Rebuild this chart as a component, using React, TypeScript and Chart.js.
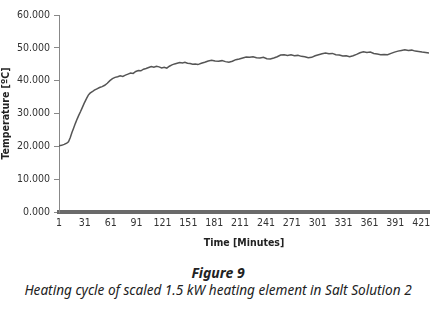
import React, { useEffect, useRef } from "react";
import { Chart, registerables } from "chart.js";

Chart.register(...registerables);

const minutes: number[] = [
  1, 4, 7, 10, 12, 14, 16, 18, 20, 22, 24, 26, 28, 30, 33, 35, 37, 40, 42, 45,
  48, 51, 54, 57, 60, 63, 66, 69, 72, 75, 78, 81, 84, 87, 90, 93, 96, 99, 102, 105,
  108, 111, 114, 117, 120, 123, 126, 129, 132, 135, 138, 141, 144, 147, 150, 153, 156, 159, 162, 166,
  170, 174, 178, 182, 186, 190, 194, 198, 202, 206, 210, 214, 218, 222, 226, 230, 234, 238, 242, 246,
  250, 254, 258, 262, 266, 270, 274, 278, 282, 286, 290, 294, 298, 302, 306, 310, 314, 318, 322, 326,
  330, 334, 338, 342, 346, 350, 354, 358, 362, 366, 370, 374, 378, 382, 386, 390, 394, 398, 402, 406,
  410, 414, 418, 422, 426, 430,
];

const temperatures: number[] = [
  20.2, 20.3, 20.6, 21.0, 21.4, 22.6, 24.2, 25.6, 27.0, 28.3, 29.5, 30.6, 31.8, 33.0, 34.6, 35.6, 36.2, 36.7, 37.1, 37.5,
  37.9, 38.2, 38.6, 39.2, 40.0, 40.6, 41.0, 41.2, 41.5, 41.3, 41.7, 42.0, 42.3, 42.2, 42.8, 43.1, 43.0, 43.5, 43.7, 44.0,
  44.3, 44.1, 44.4, 44.2, 43.9, 44.1, 43.8, 44.4, 44.8, 45.1, 45.3, 45.5, 45.4, 45.6, 45.3, 45.2, 45.0, 45.1, 44.9, 45.3,
  45.6, 46.0, 46.2, 46.0, 45.9, 46.1, 45.8, 45.6, 45.9, 46.4, 46.6, 46.9, 47.2, 47.1, 47.3, 47.0, 46.9, 47.1, 46.7, 46.6,
  46.9, 47.3, 47.8, 47.9, 47.7, 47.9, 47.6, 47.7, 47.4, 47.3, 47.0, 47.1, 47.6, 47.9, 48.2, 48.4, 48.2, 48.3, 47.9, 47.8,
  47.5, 47.6, 47.3, 47.6, 48.0, 48.5, 48.8, 48.6, 48.7, 48.3, 48.1, 47.9, 48.0, 47.9, 48.3, 48.7, 49.0, 49.2, 49.4, 49.2,
  49.3, 49.0, 48.9, 48.7, 48.6, 48.4,
];

const xTickValues: number[] = [1, 31, 61, 91, 121, 151, 181, 211, 241, 271, 301, 331, 361, 391, 421];
const yTickValues: number[] = [0, 10, 20, 30, 40, 50, 60];

const FONT = "'DejaVu Sans Condensed', 'Liberation Sans Narrow', Arial, sans-serif";

export default function App() {
  const ref = useRef<HTMLCanvasElement>(null);

  useEffect(() => {
    document.body.style.margin = "0";
    const canvas = ref.current;
    if (!canvas) return;
    const points = minutes.map((m, i) => ({ x: m, y: temperatures[i] }));
    const chart = new Chart(canvas, {
      type: "line",
      data: {
        datasets: [
          {
            data: points,
            borderColor: "#555555",
            backgroundColor: "#555555",
            borderWidth: 1.5,
            pointRadius: 0,
            tension: 0,
          },
        ],
      },
      options: {
        animation: false,
        responsive: false,
        maintainAspectRatio: false,
        layout: { padding: { top: 15, right: 7, left: 0, bottom: 0 } },
        plugins: { legend: { display: false }, tooltip: { enabled: false } },
        scales: {
          x: {
            type: "linear",
            min: 1,
            max: 430,
            afterBuildTicks: (scale: any) => {
              scale.ticks = xTickValues.map((v) => ({ value: v }));
            },
            afterFit: (scale: any) => {
              scale.height = 38;
            },
            grid: { drawOnChartArea: false, drawTicks: false },
            border: { display: true, color: "#6a6a6a", width: 4 },
            ticks: {
              autoSkip: false,
              maxRotation: 0,
              padding: 5,
              color: "#333",
              font: { family: FONT, size: 10.5 },
              callback: (v: any) => String(v),
            },
            title: {
              display: true,
              text: "Time [Minutes]",
              color: "#222",
              font: { family: FONT, size: 10.5, weight: "bold" },
              padding: { top: 3, bottom: 0 },
            },
          },
          y: {
            min: 0,
            max: 60,
            afterBuildTicks: (scale: any) => {
              scale.ticks = yTickValues.map((v) => ({ value: v }));
            },
            afterFit: (scale: any) => {
              scale.width = 59;
            },
            grid: { drawOnChartArea: false, drawTicks: true, tickLength: 5, color: "#888" },
            border: { display: true, color: "#888", width: 1 },
            ticks: {
              padding: 4,
              color: "#333",
              font: { family: FONT, size: 10.5 },
              callback: (v: any) => Number(v).toFixed(3),
            },
            title: {
              display: true,
              text: "Temperature [ºC]",
              color: "#222",
              font: { family: FONT, size: 10.5, weight: "bold" },
              padding: { top: 0, bottom: 2 },
            },
          },
        },
      },
    });
    return () => chart.destroy();
  }, []);

  return (
    <div style={{ position: "absolute", left: 0, top: 0, width: 436, height: 309, background: "#fff" }}>
      <canvas ref={ref} width={436} height={250} style={{ display: "block", width: 436, height: 250 }} />
      <div
        style={{
          position: "absolute",
          left: 0,
          top: 264,
          width: 436,
          textAlign: "center",
          fontFamily: "'Noto Sans', 'Open Sans', sans-serif",
          fontStyle: "italic",
          fontWeight: "bold",
          fontSize: 14,
          color: "#222",
          lineHeight: "17px",
        }}
      >
        Figure 9
      </div>
      <div
        style={{
          position: "absolute",
          left: 0,
          top: 281,
          width: 436,
          textAlign: "center",
          fontFamily: "'Noto Sans', 'Open Sans', sans-serif",
          fontStyle: "italic",
          fontSize: 13.6,
          color: "#222",
          lineHeight: "17px",
          whiteSpace: "nowrap",
        }}
      >
        Heating cycle of scaled 1.5 kW heating element in Salt Solution 2
      </div>
    </div>
  );
}
